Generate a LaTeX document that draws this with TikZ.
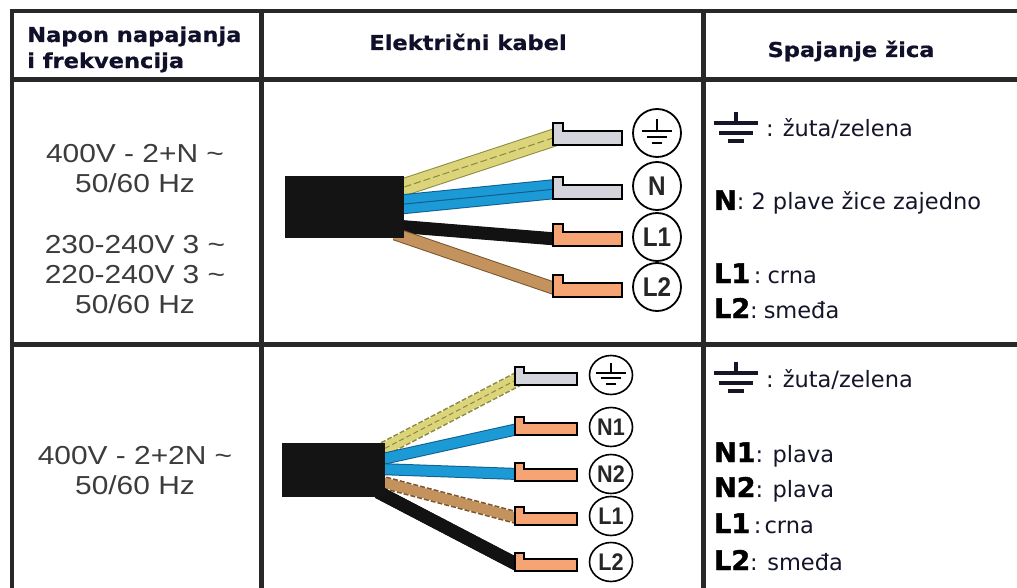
\documentclass[tikz,border=0pt]{standalone}
\usepackage{fontspec}
\setmainfont{DejaVu Sans}
\newfontfamily\hdrfont[FakeStretch=1.1,BoldFeatures={FakeBold=0.6}]{DejaVu Sans}
\newfontfamily\volfont[FakeStretch=1.15]{Liberation Sans}
\newfontfamily\txtfont{DejaVu Sans}
\newfontfamily\lblfont[BoldFeatures={FakeBold=1.6}]{DejaVu Sans}
\newfontfamily\circfont[FakeStretch=0.9]{Liberation Sans}
\usetikzlibrary{shapes.geometric}
\definecolor{tblcol}{HTML}{282828}
\definecolor{hdrcol}{HTML}{10102A}
\definecolor{volcol}{HTML}{3C3C3C}
\definecolor{txtcol}{HTML}{15152A}
\definecolor{yelw}{HTML}{DCD47A}
\definecolor{yele}{HTML}{8C8A3C}
\definecolor{bluw}{HTML}{1B9AD6}
\definecolor{blue}{HTML}{0F5F8E}
\definecolor{brnw}{HTML}{C4925C}
\definecolor{brne}{HTML}{7A5530}
\definecolor{blkw}{HTML}{121212}
\definecolor{termgray}{HTML}{D4D4DC}
\definecolor{termorange}{HTML}{F6A474}
\definecolor{jacket}{HTML}{141414}
\newcommand\lb[1]{{\lblfont\fontsize{27}{30}\selectfont\bfseries\color{black}#1}}
\newcommand\wirepair[6]{%
  \draw[line width=#4, #1] #5 -- #6;
  \draw[line width=#3, #2] #5 -- #6;}
\newcommand\termA[2]{%
  \draw[line width=1.8, fill=#2] (553,{#1+10}) -- (553,{#1-12}) -- (563,{#1-12}) -- (563,{#1-4}) -- (622,{#1-4}) -- (622,{#1+10}) -- cycle;}
\newcommand\termB[2]{%
  \draw[line width=1.8, fill=#2] (515,{#1+8}) -- (515,{#1-10}) -- (524,{#1-10}) -- (524,{#1-4}) -- (577,{#1-4}) -- (577,{#1+8}) -- cycle;}
\begin{document}
\begin{tikzpicture}[x=1pt,y=-1pt,
  tbl/.style={draw=tblcol, line width=#1},
  hdr/.style={inner sep=0, font=\hdrfont\bfseries\fontsize{20.5}{26}\selectfont, text=hdrcol},
  vol/.style={inner sep=0, anchor=base, font=\volfont\fontsize{26}{30}\selectfont, text=volcol},
  txt/.style={inner sep=0, anchor=base west, font=\txtfont\fontsize{22.5}{26}\selectfont, text=txtcol},
  termone/.style={circle, draw=black, line width=1.8, fill=white, minimum size=48, inner sep=0,
    font=\circfont\bfseries\fontsize{27}{28}\selectfont, text=black!85},
  termtwo/.style={ellipse, draw=black, line width=1.6, fill=white, minimum width=43, minimum height=39, inner sep=0,
    font=\circfont\bfseries\fontsize{24}{26}\selectfont, text=black!85},
  cgnd/.pic={
    \draw[line width=2] (0,-14) -- (0,-2);
    \draw[line width=2] (-15,-2) -- (15,-2);
    \draw[line width=2] (-10,4) -- (10,4);
    \draw[line width=2] (-5,10) -- (5,10);},
  tgnd/.pic={
    \draw[line width=3.2, txtcol] (0,-11) -- (0,0);
    \draw[line width=3.2, txtcol] (-22,0) -- (22,0);
    \draw[line width=3.2, txtcol] (-17,10) -- (17,10);
    \draw[line width=3.2, txtcol] (-8,18) -- (8,18);}
]
\useasboundingbox (0,0) rectangle (1017,588);
\fill[white] (0,0) rectangle (1017,588);
% table
\draw[tbl=3.5] (10,11) -- (1017,11);
\draw[tbl=5] (10,80) -- (1017,80);
\draw[tbl=5] (10,344.5) -- (1017,344.5);
\draw[tbl=4] (12,9.5) -- (12,588);
\draw[tbl=5] (261,9.5) -- (261,588);
\draw[tbl=5] (703,9.5) -- (703,588);
% header
\node[hdr, anchor=base west] (h1a) at (27,42) {Napon napajanja};
\node[hdr, anchor=base west] (h1b) at (27,68) {i frekvencija};
\node[hdr, anchor=base] (h2) at (468,50) {Električni kabel};
\node[hdr, anchor=base] (h3) at (851,57) {Spajanje žica};
% column 1
\node[vol] (v1) at (135,163) {400V - 2+N \textasciitilde};
\node[vol] (v2) at (135,193) {50/60 Hz};
\node[vol] (v3) at (135,253) {230-240V 3 \textasciitilde};
\node[vol] (v4) at (135,283) {220-240V 3 \textasciitilde};
\node[vol] (v5) at (135,313) {50/60 Hz};
\node[vol] (v6) at (135,464) {400V - 2+2N \textasciitilde};
\node[vol] (v7) at (135,494) {50/60 Hz};
% row 1 cable
\wirepair{yele}{yelw}{16}{18}{(395,190)}{(556,137)}
\draw[line width=1, yele, dash pattern=on 7pt off 3pt] (395,190) -- (556,137);
\wirepair{blue}{bluw}{18}{20}{(395,205)}{(556,189)}
\draw[line width=1, blue] (395,205) -- (556,189);
\wirepair{blkw}{blkw}{12}{13}{(395,226)}{(556,239)}
\wirepair{brne}{brnw}{11}{13}{(395,234)}{(556,289)}
\fill[jacket] (285,176) rectangle (404,238);
\termA{135}{termgray}
\termA{189}{termgray}
\termA{236}{termorange}
\termA{287}{termorange}
\node[termone] (c1e) at (657,133) {};
\pic at (c1e) {cgnd};
\node[termone] (c1n) at (657,186) {N};
\node[termone] (c1l1) at (657,237) {L1};
\node[termone] (c1l2) at (657,287) {L2};
% row 2 cable
\draw[line width=15, yele, dash pattern=on 5pt off 2pt] (378,452) -- (518,379);
\draw[line width=12, yelw] (378,452) -- (518,379);
\draw[line width=1, yele, dash pattern=on 5pt off 3pt] (378,452) -- (518,379);
\wirepair{blue}{bluw}{10}{12}{(378,460)}{(518,429)}
\wirepair{blue}{bluw}{10}{12}{(378,469)}{(518,474)}
\draw[line width=13, brne, dash pattern=on 5pt off 2pt] (378,481) -- (518,518);
\draw[line width=10, brnw] (378,481) -- (518,518);
\wirepair{blkw}{blkw}{13}{13}{(378,492)}{(518,565)}
\fill[jacket] (282,443) rectangle (385,497);
\termB{377}{termgray}
\termB{427}{termorange}
\termB{473}{termorange}
\termB{517}{termorange}
\termB{563}{termorange}
\node[termtwo] (c2e) at (611,375) {};
\pic[yscale=0.85] at (c2e) {cgnd};
\node[termtwo] (c2n1) at (611,427) {N1};
\node[termtwo] (c2n2) at (611,474) {N2};
\node[termtwo] (c2l1) at (611,516) {L1};
\node[termtwo] (c2l2) at (611,562) {L2};
% column 3, row 1
\pic at (736,123) {tgnd};
\node[txt] (t1e) at (766,137) {:\hspace{9pt}žuta/zelena};
\node[txt] (t1n) at (714,210) {\lb{N}: 2 plave žice zajedno};
\node[txt] (t1l1) at (714,283) {\lb{L1}\,:\hspace{6pt}crna};
\node[txt] (t1l2) at (714,318) {\lb{L2}:\hspace{6pt}smeđa};
% column 3, row 2
\pic at (736,373) {tgnd};
\node[txt] (t2e) at (766,387) {:\hspace{9pt}žuta/zelena};
\node[txt] (t2n1) at (714,462) {\lb{N1}: plava};
\node[txt] (t2n2) at (714,497) {\lb{N2}: plava};
\node[txt] (t2l1) at (714,533) {\lb{L1}\,:\hspace{3pt}crna};
\node[txt] (t2l2) at (714,570) {\lb{L2}: smeđa};
\end{tikzpicture}
\end{document}
